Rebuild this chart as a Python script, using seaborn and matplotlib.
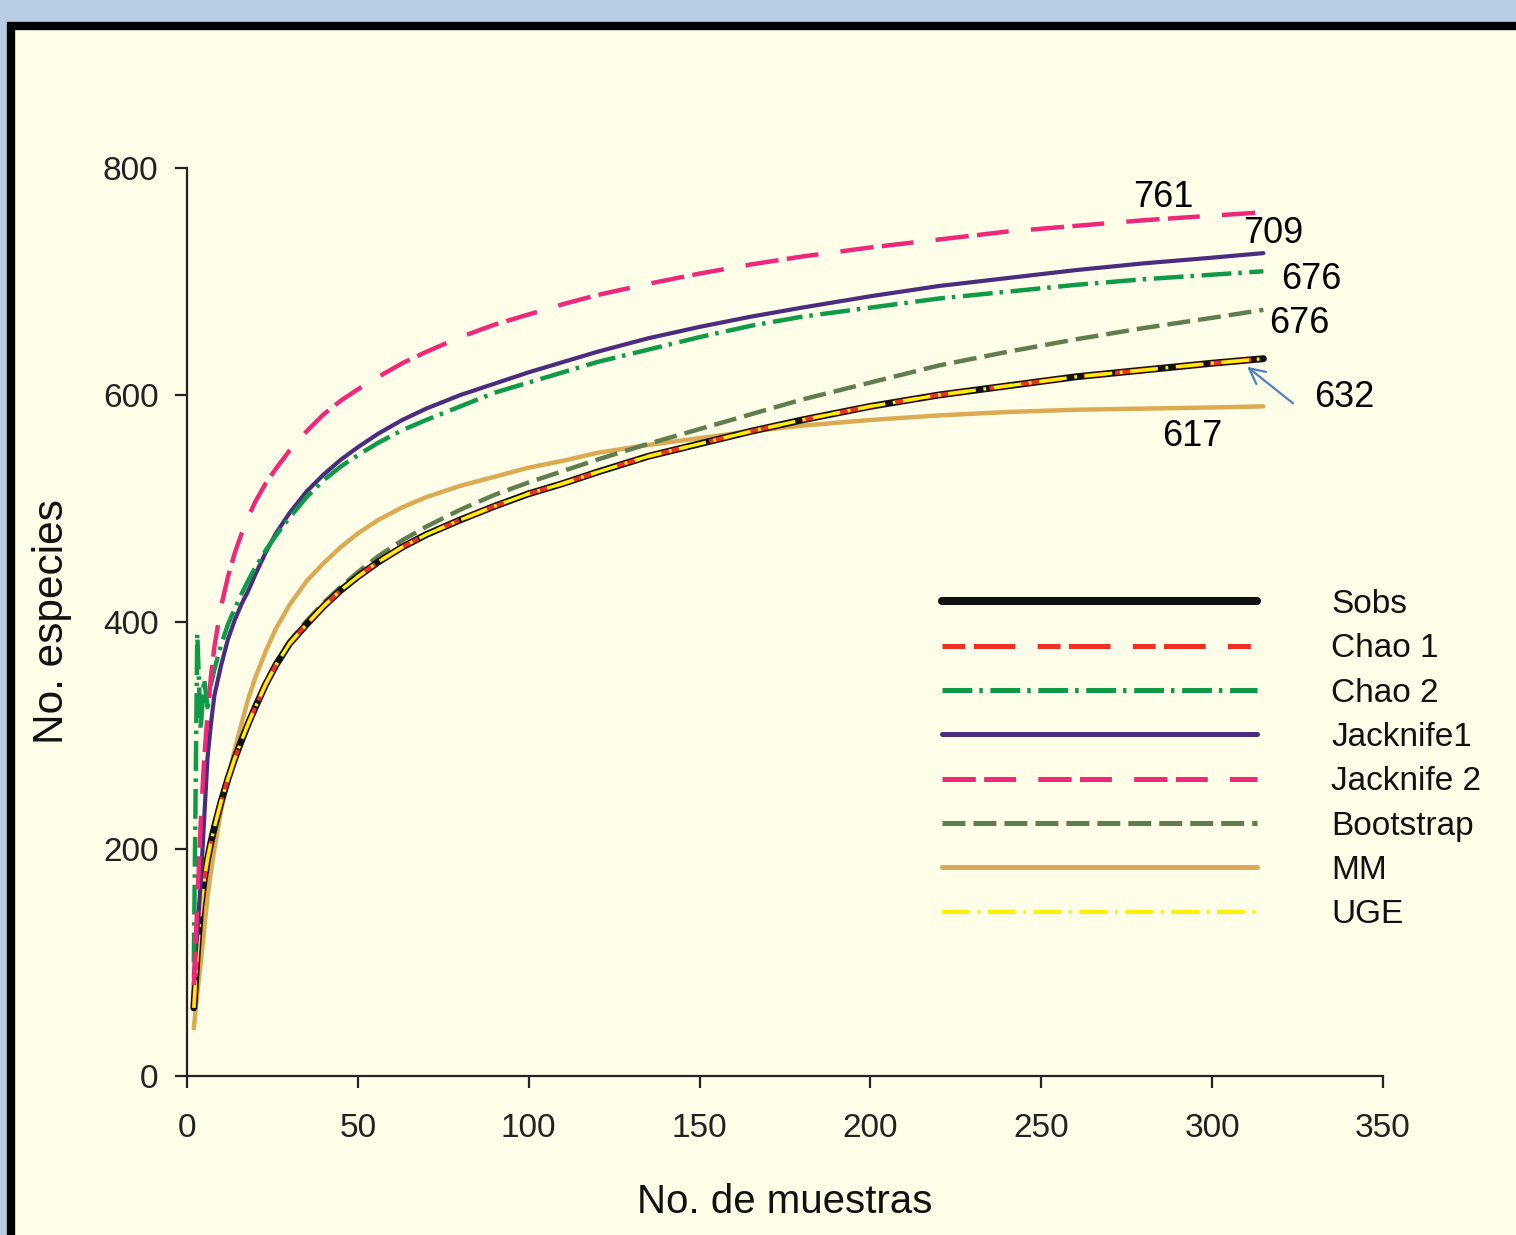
import numpy as np
import pandas as pd
import matplotlib
matplotlib.use("Agg")
import matplotlib.pyplot as plt
from matplotlib.patches import Rectangle
from matplotlib.lines import Line2D
import seaborn as sns

# ---------------- data ----------------
muestras = [2, 3, 4, 5, 6, 7, 8, 10, 12, 14, 16, 18, 20, 23, 26, 30, 35, 40, 45, 50,
            56, 63, 70, 80, 90, 100, 110, 120, 135, 150, 165, 180, 200, 220, 240,
            260, 280, 300, 315]

sobs = [60, 108, 148, 172, 191, 206, 219, 242, 262, 280, 296, 311, 325, 345, 362,
        381, 398, 414, 428, 440, 453, 466, 477, 490, 502, 513, 522, 532, 546, 557,
        568, 578, 590, 600, 608, 616, 622, 628, 632]
chao1 = [60, 108, 148, 172, 191, 206, 219, 242, 262, 280, 296, 311, 325, 345, 362,
         381, 398, 414, 428, 440, 453, 466, 477, 490, 502, 513, 522, 532, 546, 557,
         568, 578, 590, 600, 608, 616, 622, 628, 632]
chao2 = [100, 390, 305, 350, 325, 345, 358, 380, 398, 412, 425, 437, 448, 463, 476,
         492, 510, 525, 537, 547, 558, 569, 578, 590, 602, 611, 620, 629, 640, 651,
         661, 669, 677, 685, 691, 697, 702, 706, 709]
jack1 = [88, 125, 170, 225, 280, 310, 335, 362, 385, 402, 416, 428, 442, 461, 478,
         496, 515, 530, 543, 554, 566, 578, 588, 600, 610, 620, 629, 638, 650, 660,
         669, 677, 687, 696, 703, 710, 716, 721, 725]
jack2 = [80, 150, 222, 278, 318, 352, 378, 414, 440, 461, 478, 493, 506, 522, 535,
         551, 568, 583, 595, 605, 616, 628, 638, 651, 662, 671, 680, 688, 698, 707,
         715, 722, 730, 737, 744, 749, 754, 758, 761]
boot = [62, 110, 150, 174, 193, 208, 221, 244, 264, 282, 298, 313, 327, 347, 364,
        383, 401, 417, 431, 444, 458, 472, 484, 499, 512, 523, 533, 543, 557, 570,
        583, 596, 611, 626, 638, 649, 659, 668, 675]
mm = [42, 72, 100, 128, 158, 180, 200, 234, 262, 288, 311, 333, 351, 374, 394,
      415, 436, 452, 466, 478, 490, 501, 510, 520, 528, 536, 542, 549, 556, 562,
      568, 573, 578, 582, 585, 587, 588, 589, 590]
uge = [60, 108, 148, 172, 191, 206, 219, 242, 262, 280, 296, 311, 325, 345, 362,
       381, 398, 414, 428, 440, 453, 466, 477, 490, 502, 513, 522, 532, 546, 557,
       568, 578, 590, 600, 608, 616, 622, 628, 632]

etiquetas = ["761", "709", "676", "676", "632", "617"]
etiq_x = [285.6, 317.8, 328.9, 325.4, 338.6, 294.1]
etiq_y = [774.4, 742.7, 702.2, 663.4, 597.4, 563.0]

xticks = [0, 50, 100, 150, 200, 250, 300, 350]
yticks = [0, 200, 400, 600, 800]

# ---------------- style ----------------
sns.set_theme(style="ticks")
plt.rcParams["font.family"] = ["Liberation Sans", "DejaVu Sans"]
plt.rcParams["lines.scale_dashes"] = False

W, H = 1516, 1235
fig = plt.figure(figsize=(W / 100, H / 100), dpi=100)
fig.patch.set_facecolor("#B8CCE4")

cream = "#FFFEE8"
# outer framed panel
panel = Rectangle((11 / W, -0.05), 1.2, 1 - 26 / H + 0.05,
                  transform=fig.transFigure, facecolor=cream,
                  edgecolor="black", linewidth=6, zorder=-10)
fig.add_artist(panel)

ax = fig.add_axes([187 / W, 1 - 1076 / H, 1196 / W, 908 / H])
ax.set_facecolor("none")
ax.set_zorder(5)

series = [
    # name, values, color, lw, linestyle, zorder
    ("MM", mm, "#DCAA52", 3.2, "-", 2),
    ("Bootstrap", boot, "#5F7D50", 3.2, (0, (16.5, 5.8)), 3),
    ("Sobs", sobs, "#111111", 5.0, "-", 4),
    ("Chao 1", chao1, "#EE3124", 3.0, (0, (16.5, 6, 30, 16)), 5),
    ("UGE", uge, "#FFF200", 2.4, (0, (20, 5.5, 2, 5.5)), 6),
    ("Jacknife1", jack1, "#4A2C80", 3.0, "-", 7),
    ("Chao 2", chao2, "#0E9A48", 3.2, (0, (21.5, 5, 2.5, 5.5)), 8),
    ("Jacknife 2", jack2, "#F0287A", 3.2, (0, (24, 6, 23, 16)), 9),
]

handles = {}
for name, vals, col, lw, ls, z in series:
    df = pd.DataFrame({"muestras": muestras, "especies": vals})
    sns.lineplot(data=df, x="muestras", y="especies", ax=ax, color=col,
                 linewidth=lw, linestyle=ls, zorder=z, sort=False,
                 estimator=None, solid_joinstyle="round")
    hlw = 5.8 if name == "Sobs" else (2.9 if name == "UGE" else 3.6)
    handles[name] = Line2D([], [], color=col, linewidth=hlw,
                           linestyle=ls, solid_capstyle="round")

order = ["Sobs", "Chao 1", "Chao 2", "Jacknife1", "Jacknife 2", "Bootstrap", "MM", "UGE"]
leg = ax.legend([handles[n] for n in order], order, loc="upper left",
                bbox_to_anchor=(942 / W, 1 - 589 / H), bbox_transform=fig.transFigure,
                frameon=False, fontsize=24, handlelength=9.45, handletextpad=2.22,
                labelspacing=0.40, borderpad=0, borderaxespad=0)
for t in leg.get_texts():
    t.set_color("#111111")

ax.set_xlim(0, 350)
ax.set_ylim(0, 800)
ax.set_xticks(xticks)
ax.set_yticks(yticks)
ax.tick_params(axis="both", direction="out", length=8.5, width=1.6, colors="#222222",
               labelsize=24)
ax.tick_params(axis="x", pad=18)
ax.tick_params(axis="y", pad=12)
for s in ["top", "right"]:
    ax.spines[s].set_visible(False)
for s in ["left", "bottom"]:
    ax.spines[s].set_color("#222222")
    ax.spines[s].set_linewidth(1.6)

ax.set_xlabel("No. de muestras", fontsize=29, color="#111111", labelpad=28)
ax.set_ylabel("No. especies", fontsize=30.5, color="#111111", labelpad=22)

for lab, lx, ly in zip(etiquetas, etiq_x, etiq_y):
    ax.text(lx, ly, lab, fontsize=26, color="black", ha="center", va="center")

ax.annotate("", xy=(309.6, 626.4), xytext=(324.3, 591.2),
            arrowprops=dict(arrowstyle="->", color="#4F81BD", lw=1.6,
                            mutation_scale=28))

fig.savefig("out.png", dpi=100, facecolor=fig.get_facecolor())
